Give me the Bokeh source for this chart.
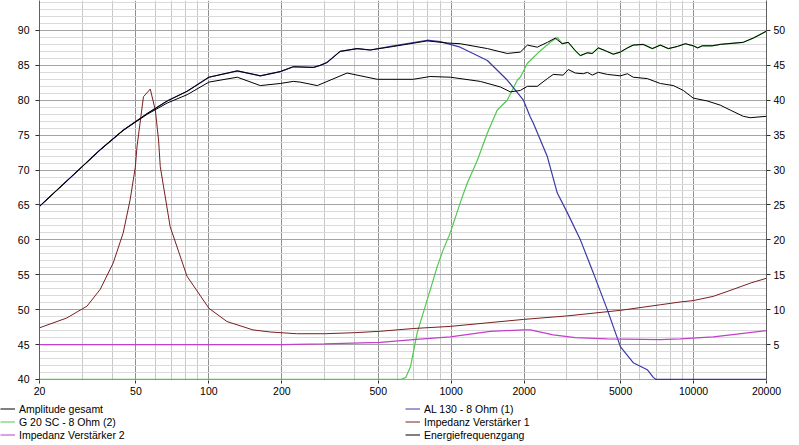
from bokeh.plotting import figure
from bokeh.models import (Range1d, LinearAxis, FixedTicker, BasicTickFormatter,
                          Legend, LegendItem)
from bokeh.layouts import column
from bokeh.embed import file_html
from bokeh.resources import INLINE

# ---------------- data ----------------
x_ticks = [20, 50, 100, 200, 500, 1000, 2000, 5000, 10000, 20000]
x_minor = [30, 40, 60, 70, 80, 90, 300, 400, 600, 700, 800, 900,
           3000, 4000, 6000, 7000, 8000, 9000]
db_ticks = [40, 45, 50, 55, 60, 65, 70, 75, 80, 85, 90]
ohm_ticks = [5, 10, 15, 20, 25, 30, 35, 40, 45, 50]

# Amplitude gesamt (dB)
amp_f = [20, 29.4, 35.6, 44.3, 55.7, 67.3, 81.4, 100, 131, 163, 197, 223, 270, 288, 307,
         348, 409, 463, 577, 796, 963, 1089, 1410, 1702, 1928, 2062, 2266, 2494, 2687,
         2871, 3041, 3250, 3412, 3646, 3819, 4046, 4325, 4666, 4989, 5333, 5636, 6194,
         6760, 7295, 7872, 8570, 9248, 9977, 10400, 10866, 11940, 12884, 16034, 17620, 20000]
amp_db = [64.8, 70.2, 72.9, 75.7, 78.1, 79.9, 81.3, 83.3, 84.2, 83.5, 84.1, 84.8, 84.7, 85.0, 85.4,
          87.0, 87.4, 87.2, 87.7, 88.5, 88.2, 88.1, 87.4, 86.7, 86.9, 87.9, 87.6, 88.3, 88.9,
          88.1, 88.3, 87.1, 86.4, 86.8, 86.7, 87.5, 87.1, 86.6, 86.9, 87.5, 87.9, 88.0,
          87.4, 87.9, 87.4, 87.7, 88.1, 87.8, 87.5, 87.8, 87.8, 88.0, 88.3, 88.9, 89.9]

# Energiefrequenzgang (dB)
eng_f = [20, 29.4, 35.6, 44.3, 55.7, 67.3, 81.4, 100, 131, 163, 197, 223, 238, 280, 372, 495,
         697, 819, 991, 1318, 1596, 1754, 1928, 2062, 2266, 2494, 2637, 2898, 3041, 3250,
         3508, 3646, 3819, 4046, 4406, 4989, 5333, 5636, 6442, 7295, 8260, 9078, 9977,
         11384, 12884, 14160, 16034, 17140, 20000]
eng_db = [64.8, 70.2, 72.9, 75.7, 78.0, 79.6, 80.8, 82.6, 83.3, 82.1, 82.4, 82.7, 82.6, 82.1, 83.9, 83.0,
          83.0, 83.4, 83.3, 82.7, 81.9, 81.2, 81.4, 82.0, 82.0, 83.1, 83.7, 83.6, 84.4, 83.9,
          83.8, 84.0, 83.6, 84.0, 83.7, 83.5, 83.8, 83.3, 83.1, 82.4, 82.1, 81.4, 80.3,
          79.9, 79.3, 78.6, 77.7, 77.5, 77.7]

# AL 130 - 8 Ohm (1) (dB)
al_f = [20, 29.4, 35.6, 44.3, 55.7, 67.3, 81.4, 100, 131, 163, 197, 223, 270, 288, 307, 348,
        409, 463, 577, 796, 901, 1089, 1410, 1702, 1986, 2120, 2183, 2494, 2740, 3013, 3412,
        3855, 4406, 4989, 5636, 6442, 6823, 7000, 20000]
al_db = [64.8, 70.2, 72.9, 75.7, 78.1, 79.9, 81.3, 83.3, 84.2, 83.5, 84.1, 84.8, 84.7, 85.0, 85.4, 87.0,
         87.4, 87.2, 87.8, 88.6, 88.4, 87.6, 85.7, 82.9, 80.0, 77.6, 76.7, 71.9, 66.7, 63.9, 60.0,
         55.3, 50.0, 44.7, 42.4, 41.4, 40.3, 40.0, 40.0]

# G 20 SC - 8 Ohm (2) (dB)
g_f = [20, 620, 650, 680, 724, 796, 876, 927, 991, 1089, 1164, 1282, 1410, 1549, 1702, 1875,
       1928, 2062, 2120, 2333, 2565, 2740, 2871, 3041, 3250, 3412, 3646, 3819, 4046, 4325,
       4666, 4989, 5333, 5636, 6194, 6760, 7295, 7872, 8570, 9248, 9977, 10400, 10866,
       11940, 12884, 16034, 17620, 20000]
g_db = [40.0, 40.0, 40.3, 41.9, 46.7, 51.4, 56.2, 58.6, 61.0, 65.3, 68.1, 71.4, 75.3, 78.6, 80.0, 82.9,
        83.3, 85.3, 85.7, 87.1, 88.3, 89.0, 88.1, 88.3, 87.1, 86.4, 86.8, 86.7, 87.5, 87.1,
        86.6, 86.9, 87.5, 87.9, 88.0, 87.4, 87.9, 87.4, 87.7, 88.1, 87.8, 87.5, 87.8,
        87.8, 88.0, 88.3, 88.9, 89.9]

# Impedanz Verstärker 1 (Ohm)
i1_f = [20, 25.9, 31.4, 35.6, 40.3, 44.3, 47.3, 49.7, 50.5, 53.7, 57.3, 60.1, 62.0, 63.0, 69.2,
        81.2, 100, 118.7, 152, 179, 230, 300, 400, 509, 700, 991, 1400, 1986, 3000, 4989, 7295,
        8812, 9977, 12052, 14560, 17140, 20000]
i1_ohm = [7.4, 8.8, 10.5, 12.9, 16.7, 21.0, 25.7, 30.4, 33.3, 40.5, 41.6, 38.6, 34.3, 30.5, 21.9,
          14.8, 10.2, 8.3, 7.1, 6.8, 6.55, 6.55, 6.7, 6.9, 7.3, 7.6, 8.1, 8.6, 9.1, 9.9, 10.7,
          11.1, 11.3, 11.9, 12.9, 13.8, 14.5]

# Impedanz Verstärker 2 (Ohm)
i2_f = [20, 200, 300, 509, 697, 991, 1449, 1986, 2120, 2637, 3250, 4406, 7295, 8812, 12052,
        14240, 20000]
i2_ohm = [5.0, 5.0, 5.1, 5.3, 5.7, 6.1, 6.9, 7.1, 7.1, 6.4, 6.0, 5.8, 5.7, 5.8, 6.1, 6.4, 7.0]

names = ["Amplitude gesamt", "G 20 SC - 8 Ohm (2)", "Impedanz Verstärker 2",
         "AL 130 - 8 Ohm (1)", "Impedanz Verstärker 1", "Energiefrequenzgang"]

# ---------------- styles ----------------
FONT = "Liberation Sans"
C_AMP, C_ENG = "black", "black"
C_G, C_AL, C_I1, C_I2 = "#50c850", "#3a3aa6", "#7a1e1e", "#c040c8"

# ---------------- main figure ----------------
p = figure(width=799, height=400, x_axis_type="log",
           x_range=Range1d(20, 20000), y_range=Range1d(39.85, 94.29),
           output_backend="svg", toolbar_location=None,
           min_border_left=39, min_border_right=33, min_border_top=0,
           min_border_bottom=20, title=None)
p.extra_y_ranges = {"imp": Range1d(-0.15, 54.29)}
p.outline_line_color = None
p.background_fill_color = "white"

xa = p.xaxis[0]
xa.ticker = FixedTicker(ticks=x_ticks, minor_ticks=x_minor)
xa.formatter = BasicTickFormatter(use_scientific=False)
ya = p.yaxis[0]
ya.ticker = FixedTicker(ticks=db_ticks, minor_ticks=[v for v in range(41, 95) if v % 5])
ra = LinearAxis(y_range_name="imp",
                ticker=FixedTicker(ticks=ohm_ticks, minor_ticks=[]))
p.add_layout(ra, "right")

for ax in (xa, ya, ra):
    ax.axis_line_color = "#606060"
    ax.major_tick_line_color = "#303030"
    ax.minor_tick_out = 0
    ax.minor_tick_in = 0
    ax.major_tick_in = 0
    ax.major_label_text_font = FONT
    ax.major_label_text_font_size = "10.5px"
    ax.major_label_text_color = "black"
xa.axis_line_color = None
xa.major_tick_out = 3
xa.major_label_standoff = 3
ya.major_tick_out = 4
ya.major_label_standoff = 6
ra.major_tick_out = 4
ra.major_label_standoff = 3

p.xgrid.grid_line_color = "#909090"
p.xgrid.minor_grid_line_color = "#c8c8c8"
p.ygrid.grid_line_color = "#a4a4a4"
p.ygrid.minor_grid_line_color = "#dadada"
p.xgrid.level = "underlay"
p.ygrid.level = "underlay"

p.line(g_f, g_db, line_color=C_G, line_width=1.2)
p.line(al_f, al_db, line_color=C_AL, line_width=1.2)
p.line(i1_f, i1_ohm, line_color=C_I1, line_width=1, y_range_name="imp")
p.line(i2_f, i2_ohm, line_color=C_I2, line_width=1.3, y_range_name="imp")
p.line(eng_f, eng_db, line_color=C_ENG, line_width=1)
p.line(amp_f, amp_db, line_color=C_AMP, line_width=1)

# ---------------- legend strip ----------------
lg = figure(width=799, height=45, x_range=Range1d(0, 1), y_range=Range1d(0, 1),
            output_backend="svg", toolbar_location=None,
            min_border_left=0, min_border_right=0, min_border_top=0,
            min_border_bottom=0, title=None,
            x_axis_location=None, y_axis_location=None)
lg.frame_align = False
lg.grid.visible = False
lg.outline_line_color = None
# the series drawn off-view so that the legend shows their line styles
l_amp = lg.line(amp_f, amp_db, line_color=C_AMP, line_width=1)
l_g = lg.line(g_f, g_db, line_color=C_G, line_width=1)
l_i2 = lg.line(i2_f, i2_ohm, line_color=C_I2, line_width=1)
l_al = lg.line(al_f, al_db, line_color=C_AL, line_width=1)
l_i1 = lg.line(i1_f, i1_ohm, line_color=C_I1, line_width=1)
l_eng = lg.line(eng_f, eng_db, line_color=C_ENG, line_width=1)

items = [LegendItem(label=n, renderers=[r])
         for n, r in zip(names, [l_amp, l_g, l_i2, l_al, l_i1, l_eng])]
leg = Legend(items=items, location=(0, 4), orientation="vertical", nrows=3,
             padding=0, margin=0, spacing=0, border_line_color=None,
             background_fill_alpha=0, glyph_width=15, glyph_height=13,
             label_height=13, label_width=386, label_standoff=4,
             label_text_font=FONT, label_text_font_size="10.5px",
             label_text_color="black")
lg.add_layout(leg, "center")

layout = column(p, lg, spacing=0)
open("out.html", "w").write(file_html(layout, INLINE))
